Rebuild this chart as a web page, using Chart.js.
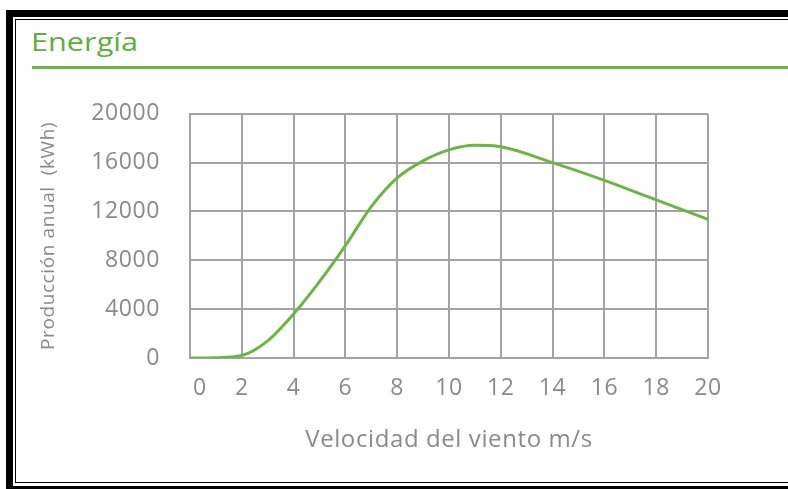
<!DOCTYPE html>
<html>
<head>
<meta charset="utf-8">
<script src="https://cdn.jsdelivr.net/npm/chart.js@4/dist/chart.umd.min.js"></script>
<style>
  html, body { margin: 0; padding: 0; background: #fff; }
  body { width: 788px; height: 489px; position: relative; overflow: hidden; font-family: "Open Sans", sans-serif; }
  .blk { position: absolute; background: #000; }
  #title { position: absolute; left: 31px; top: 23px; font-size: 26px; color: #5eae3e; font-weight: 400;
           transform: scaleX(1.18); transform-origin: left top; }
  #rule { position: absolute; left: 32px; top: 66px; width: 756px; height: 3px; background: #6cb443; }
  #wrap { position: absolute; left: 16px; top: 70px; width: 772px; height: 410px; }
</style>
</head>
<body>
<div class="blk" style="left:6px;top:10px;width:782px;height:7px"></div>
<div class="blk" style="left:15px;top:19px;width:773px;height:1px"></div>
<div class="blk" style="left:6px;top:10px;width:7px;height:479px"></div>
<div class="blk" style="left:15px;top:19px;width:1px;height:464px"></div>
<div class="blk" style="left:15px;top:482px;width:773px;height:1px"></div>
<div class="blk" style="left:6px;top:486px;width:782px;height:3px"></div>
<div id="title">Energía</div>
<div id="rule"></div>
<div id="wrap"><canvas id="c"></canvas></div>
<script>
// velocidad del viento (m/s) y producción anual (kWh)
const windSpeed = [0, 1, 2, 3, 4, 5, 6, 7, 8, 9, 10, 11, 12, 14, 16, 18, 20];
const production = [0, 20, 200, 1400, 3600, 6250, 9200, 12400, 14750, 16150, 17050, 17420, 17300, 16000, 14550, 12950, 11350];
const xTicks = [0, 2, 4, 6, 8, 10, 12, 14, 16, 18, 20];
const yTicks = [0, 4000, 8000, 12000, 16000, 20000];

const grey = "#8a8a8a";
const tickFont = { family: "Open Sans", size: 23 };

// the source text is set a little wide
const spacing = {
  id: "spacing",
  beforeLayout: (chart) => { chart.ctx.letterSpacing = "0.6px"; },
  beforeDraw: (chart) => { chart.ctx.letterSpacing = "0.6px"; },
};

new Chart(document.getElementById("c"), {
  type: "line",
  data: {
    datasets: [{
      data: windSpeed.map((x, i) => ({ x, y: production[i] })),
      borderColor: "#6ab642",
      borderWidth: 3,
      pointRadius: 0,
      fill: false,
      cubicInterpolationMode: "monotone",
    }],
  },
  plugins: [spacing],
  options: {
    responsive: true,
    maintainAspectRatio: false,
    animation: false,
    layout: { padding: { top: 33, right: 80, left: 0, bottom: 0 } },
    plugins: { legend: { display: false }, tooltip: { enabled: false } },
    scales: {
      x: {
        type: "linear",
        min: 0,
        max: 20,
        afterBuildTicks: (s) => { s.ticks = xTicks.map((v) => ({ value: v })); },
        afterFit: (s) => { s.height = 122; },
        grid: { color: "#a3a3a3", lineWidth: 2, drawTicks: false },
        border: { color: "#a3a3a3", width: 2 },
        ticks: {
          color: grey,
          font: tickFont,
          padding: 17,
          maxRotation: 0,
          autoSkip: false,
          callback: (v) => (v === 0 ? "   0" : String(v)),
        },
        title: {
          display: true,
          text: "Velocidad del viento m/s",
          color: grey,
          font: { family: "Open Sans", size: 24 },
          padding: { top: 0, bottom: 25 },
        },
      },
      y: {
        min: 0,
        max: 20000,
        afterBuildTicks: (s) => { s.ticks = yTicks.map((v) => ({ value: v })); },
        afterFit: (s) => { s.width = 174; },
        grid: { color: "#a3a3a3", lineWidth: 2, drawTicks: false },
        border: { color: "#a3a3a3", width: 2 },
        ticks: { color: grey, font: tickFont, padding: 30, callback: (v) => String(v) },
        title: {
          display: true,
          text: "Producción anual  (kWh)",
          color: grey,
          font: { family: "Open Sans", size: 19 },
          padding: { top: 21, bottom: 0 },
        },
      },
    },
  },
});
</script>
</body>
</html>
